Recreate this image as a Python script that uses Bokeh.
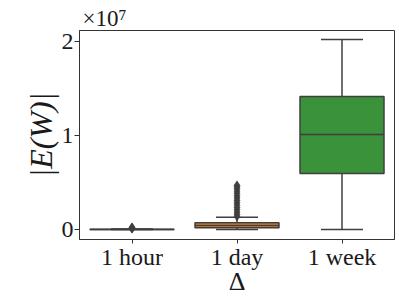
import numpy as np
from bokeh.plotting import figure
from bokeh.models import Range1d, FixedTicker, Title
from bokeh.embed import file_html
from bokeh.resources import INLINE

# ---- data ----
categories = ["1 hour", "1 day", "1 week"]
q1 = [0.0, 1.8e5, 5.96e6]
median = [1.0e4, 4.4e5, 1.01e7]
q3 = [3.0e4, 7.2e5, 1.415e7]
whisker_low = [0.0, 0.0, 0.0]
whisker_high = [6.0e4, 1.3e6, 2.02e7]
outliers_hour = [9.0e4, 1.3e5, 1.8e5, 2.4e5]
outliers_day = [1.38e6, 1.6e6, 1.85e6, 2.1e6, 2.35e6, 2.6e6, 2.85e6, 3.1e6,
                3.35e6, 3.6e6, 3.85e6, 4.1e6, 4.35e6, 4.55e6, 4.7e6]
outliers_week = []
y_ticks = [0, 10000000, 20000000]
y_tick_labels = ["0", "1", "2"]
box_colors = ["#3274a1", "#e1812c", "#3a923a"]

FONT = "Liberation Serif"
LINE = "#3f3f3f"
TXT = "#1a1a1a"

xs = np.arange(len(categories))
y_start, y_end = -1.06e6, 2.117e7

p = figure(width=399, height=299, output_backend="svg", toolbar_location=None,
           x_range=Range1d(-0.5, 2.5), y_range=Range1d(y_start, y_end),
           min_border_left=79, min_border_right=5, min_border_top=30,
           min_border_bottom=60)
p.grid.visible = False
p.outline_line_color = "#333333"
p.outline_line_width = 1
p.background_fill_color = "white"
p.border_fill_color = "white"

# whiskers
p.segment(x0=xs, y0=whisker_low, x1=xs, y1=q1, line_color=LINE, line_width=1.5)
p.segment(x0=xs, y0=q3, x1=xs, y1=whisker_high, line_color=LINE, line_width=1.5)
# caps
p.segment(x0=xs - 0.2, y0=whisker_low, x1=xs + 0.2, y1=whisker_low, line_color=LINE, line_width=1.5)
p.segment(x0=xs - 0.2, y0=whisker_high, x1=xs + 0.2, y1=whisker_high, line_color=LINE, line_width=1.5)
# boxes
p.vbar(x=xs, width=0.8, bottom=q1, top=q3, fill_color=box_colors,
       line_color=LINE, line_width=1.5)
# medians
p.segment(x0=xs - 0.4, y0=median, x1=xs + 0.4, y1=median, line_color=LINE, line_width=1.5)
# outliers
for i, outs in enumerate([outliers_hour, outliers_day, outliers_week]):
    if outs:
        p.scatter(x=[xs[i]] * len(outs), y=outs, marker="diamond", size=9,
                  fill_color=LINE, line_color=LINE, line_width=0.5)

# axes
for ax in (p.xaxis[0], p.yaxis[0]):
    ax.major_label_text_font = FONT
    ax.major_label_text_font_size = "24px"
    ax.major_label_text_color = TXT
    ax.major_tick_in = 0
    ax.minor_tick_line_color = None
    ax.axis_line_color = "#333333"
    ax.major_tick_line_color = "#333333"
    ax.axis_label_text_font = FONT
    ax.axis_label_text_color = TXT

p.xaxis.ticker = FixedTicker(ticks=list(xs))
p.xaxis.major_label_overrides = {int(i): c for i, c in zip(xs, categories)}
p.xaxis.major_tick_out = 4
p.xaxis.major_label_standoff = 0
p.xaxis.axis_label = "Δ"
p.xaxis.axis_label_text_font_size = "26px"
p.xaxis.axis_label_text_font_style = "normal"
p.xaxis.axis_label_standoff = -6

p.yaxis.ticker = FixedTicker(ticks=y_ticks)
p.yaxis.major_label_overrides = {t: s for t, s in zip(y_ticks, y_tick_labels)}
p.yaxis.major_tick_out = 5
p.yaxis.major_label_standoff = 1
p.yaxis.axis_label = "|E(W)|"
p.yaxis.axis_label_text_font_size = "32px"
p.yaxis.axis_label_text_font_style = "italic"
p.yaxis.axis_label_standoff = 0

# scale factor above the frame
p.add_layout(Title(text="×10⁷", text_font=FONT, text_font_size="23px",
                   text_font_style="normal", text_color=TXT, align="left",
                   offset=3, standoff=0), "above")

open("out.html", "w").write(file_html(p, INLINE))
